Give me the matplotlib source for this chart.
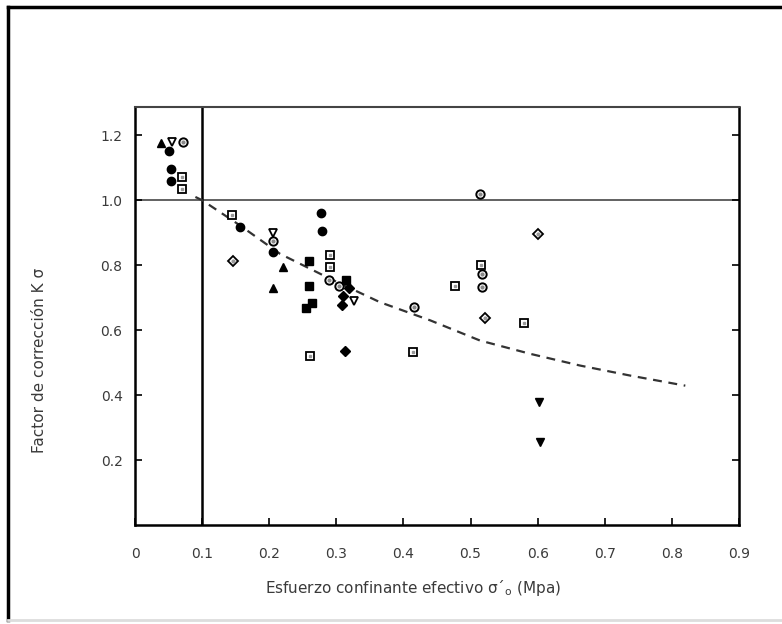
import numpy as np
import matplotlib
matplotlib.use("Agg")
import matplotlib.pyplot as plt
from matplotlib.lines import Line2D

# puntos (sigma'o en MPa, K sigma)
circ_fill_x = [0.051, 0.053, 0.054, 0.156, 0.206, 0.277, 0.278]
circ_fill_y = [1.152, 1.095, 1.058, 0.916, 0.840, 0.961, 0.905]

circ_open_x = [0.071, 0.205, 0.289, 0.304, 0.514, 0.517, 0.517, 0.416]
circ_open_y = [1.179, 0.873, 0.755, 0.735, 1.019, 0.772, 0.733, 0.671]

sq_open_x = [0.0705, 0.0705, 0.144, 0.261, 0.291, 0.291, 0.516, 0.477, 0.580, 0.414]
sq_open_y = [1.072, 1.036, 0.954, 0.519, 0.830, 0.794, 0.802, 0.735, 0.621, 0.532]

sq_fill_x = [0.260, 0.260, 0.263, 0.255, 0.314]
sq_fill_y = [0.813, 0.735, 0.683, 0.669, 0.753]

tri_up_x = [0.038, 0.221, 0.205]
tri_up_y = [1.176, 0.794, 0.730]

tri_dn_open_x = [0.055, 0.206, 0.326]
tri_dn_open_y = [1.180, 0.899, 0.691]

tri_dn_fill_x = [0.602, 0.604]
tri_dn_fill_y = [0.378, 0.257]

dia_open_x = [0.146, 0.600, 0.521]
dia_open_y = [0.813, 0.895, 0.638]

dia_fill_x = [0.319, 0.310, 0.308, 0.313]
dia_fill_y = [0.730, 0.704, 0.676, 0.537]

# curva punteada
curva_x = [0.09, 0.10, 0.156, 0.216, 0.291, 0.365, 0.44, 0.514, 0.589, 0.663, 0.738, 0.82]
curva_y = [1.01, 1.00, 0.923, 0.835, 0.758, 0.686, 0.630, 0.568, 0.527, 0.491, 0.460, 0.429]

xticks = [0, 0.1, 0.2, 0.3, 0.4, 0.5, 0.6, 0.7, 0.8, 0.9]
xlabels = ['0', '0.1', '0.2', '0.3', '0.4', '0.5', '0.6', '0.7', '0.8', '0.9']
yticks = [0.2, 0.4, 0.6, 0.8, 1.0, 1.2]
ylabels = ['0.2', '0.4', '0.6', '0.8', '1.0', '1.2']

W, H = 782, 624
fig = plt.figure(figsize=(W / 100, H / 100), dpi=100)
ax = fig.add_axes([135 / W, 1 - 525 / H, (739 - 135) / W, (525 - 107) / H])

txt = '#3a3a3a'
ms = 6

# lineas de referencia
ax.axhline(1.0, color='#555555', lw=1.3, zorder=1)
ax.axvline(0.1, color='black', lw=1.8, zorder=1)
ax.plot(curva_x, curva_y, color='#333333', lw=1.6, dashes=(4, 3), zorder=2)

ax.plot(circ_fill_x, circ_fill_y, 'o', color='black', ms=ms, ls='none', zorder=3)
ax.plot(circ_open_x, circ_open_y, 'o', mfc='white', mec='black', mew=1.4, ms=ms, ls='none', zorder=3)
ax.plot(circ_open_x, circ_open_y, 'o', color='#888888', ms=2, ls='none', zorder=4)
ax.plot(sq_open_x, sq_open_y, 's', mfc='white', mec='black', mew=1.3, ms=ms - 0.5, ls='none', zorder=3)
ax.plot(sq_open_x, sq_open_y, 's', color='#999999', ms=2, ls='none', zorder=4)
ax.plot(sq_fill_x, sq_fill_y, 's', color='black', ms=ms - 0.5, ls='none', zorder=3)
ax.plot(tri_up_x, tri_up_y, '^', color='black', ms=ms, ls='none', zorder=3)
ax.plot(tri_dn_open_x, tri_dn_open_y, 'v', mfc='white', mec='black', mew=1.3, ms=ms, ls='none', zorder=3)
ax.plot(tri_dn_fill_x, tri_dn_fill_y, 'v', color='black', ms=ms, ls='none', zorder=3)
ax.plot(dia_open_x, dia_open_y, 'D', mfc='white', mec='black', mew=1.3, ms=ms - 0.8, ls='none', zorder=3)
ax.plot(dia_open_x, dia_open_y, 'o', color='#999999', ms=2, ls='none', zorder=4)
ax.plot(dia_fill_x, dia_fill_y, 'D', color='black', ms=ms - 0.8, ls='none', zorder=3)

ax.set_xlim(0, 0.9)
ax.set_ylim(0, 1.287)
ax.set_xticks(xticks)
ax.set_xticklabels(xlabels)
ax.set_yticks(yticks)
ax.set_yticklabels(ylabels)
ax.tick_params(axis='x', direction='in', length=5, width=1.2, pad=16,
               labelsize=10, labelcolor=txt, top=False)
ax.tick_params(axis='y', direction='in', length=5, width=1.2, pad=9,
               labelsize=10, labelcolor=txt, right=True)

for s in ['left', 'bottom', 'right']:
    ax.spines[s].set_linewidth(1.8)
ax.spines['top'].set_linewidth(1.5)
ax.spines['top'].set_color('#444444')

fig.text(413 / W, 1 - 588 / H, 'Esfuerzo confinante efectivo σ´$_\\mathregular{o}$ (Mpa)',
         ha='center', va='center', fontsize=11, color=txt)
fig.text(40 / W, 1 - 360 / H, 'Factor de corrección K σ', rotation=90,
         ha='center', va='center', fontsize=11, color=txt)

# marco exterior
fig.add_artist(Line2D([8 / W, 8 / W], [1 - 620 / H, 1 - 7 / H], color='black', lw=2.5,
                      transform=fig.transFigure))
fig.add_artist(Line2D([8 / W, 1.0], [1 - 7 / H, 1 - 7 / H], color='black', lw=2.5,
                      transform=fig.transFigure))
fig.add_artist(Line2D([8 / W, 1.0], [1 - 620 / H, 1 - 620 / H], color='#dddddd', lw=2,
                      transform=fig.transFigure))

fig.savefig('out.png', dpi=100)
